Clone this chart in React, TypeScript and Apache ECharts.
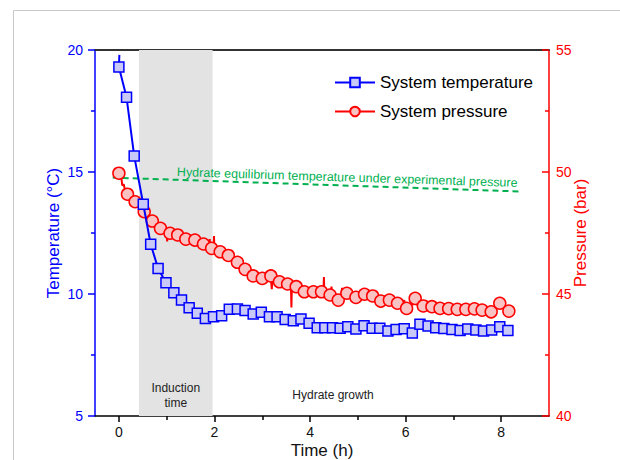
import React, { useEffect, useRef } from "react";
import * as echarts from "echarts";

// System temperature (blue squares)
const tempTime = [0, 0.16, 0.32, 0.51, 0.665, 0.82, 0.985, 1.15, 1.31, 1.47, 1.64, 1.81, 1.98, 2.15, 2.31, 2.48, 2.64, 2.81, 2.98, 3.15, 3.31, 3.48, 3.65, 3.81, 3.98, 4.15, 4.31, 4.47, 4.63, 4.79, 4.96, 5.13, 5.3, 5.46, 5.63, 5.8, 5.97, 6.14, 6.3, 6.47, 6.63, 6.8, 6.97, 7.14, 7.3, 7.47, 7.63, 7.8, 7.97, 8.14];
const tempValues = [19.3, 18.06, 15.66, 13.68, 12.04, 11.05, 10.46, 10.05, 9.75, 9.44, 9.21, 9.0, 9.07, 9.11, 9.37, 9.39, 9.32, 9.18, 9.25, 9.07, 9.07, 8.96, 8.9, 8.98, 8.8, 8.62, 8.62, 8.62, 8.6, 8.66, 8.57, 8.7, 8.6, 8.6, 8.48, 8.55, 8.58, 8.4, 8.76, 8.69, 8.62, 8.59, 8.55, 8.5, 8.57, 8.52, 8.48, 8.52, 8.66, 8.5];
// start of the continuous temperature trace
const tempTraceStart = [0.01, 19.8];

// System pressure (red circles)
const presTime = [0, 0.18, 0.34, 0.53, 0.7, 0.87, 1.07, 1.23, 1.4, 1.59, 1.77, 1.94, 2.12, 2.29, 2.48, 2.64, 2.81, 3.0, 3.18, 3.36, 3.53, 3.71, 3.88, 4.07, 4.24, 4.42, 4.59, 4.77, 4.96, 5.14, 5.31, 5.48, 5.66, 5.83, 6.02, 6.2, 6.37, 6.55, 6.72, 6.9, 7.08, 7.26, 7.44, 7.6, 7.79, 7.97, 8.16];
const presValues = [49.95, 49.09, 48.78, 48.37, 47.99, 47.69, 47.49, 47.42, 47.25, 47.21, 47.05, 46.87, 46.73, 46.58, 46.3, 46.01, 45.74, 45.64, 45.74, 45.5, 45.41, 45.3, 45.09, 45.09, 45.09, 44.96, 44.75, 45.03, 44.86, 44.99, 44.92, 44.71, 44.75, 44.62, 44.41, 44.82, 44.51, 44.48, 44.41, 44.4, 44.37, 44.37, 44.39, 44.34, 44.27, 44.62, 44.3];

// continuous (noisy) pressure record
const presTraceTime = [0, 0.03, 0.05, 0.07, 0.1, 0.13, 0.18, 0.26, 0.34, 0.44, 0.53, 0.58, 0.6, 0.62, 0.7, 0.78, 0.87, 0.97, 1.0, 1.01, 1.02, 1.07, 1.15, 1.23, 1.3, 1.4, 1.5, 1.59, 1.68, 1.77, 1.88, 1.9, 1.91, 1.94, 1.98, 1.99, 2.0, 2.12, 2.2, 2.29, 2.4, 2.48, 2.55, 2.64, 2.72, 2.81, 2.9, 2.92, 2.93, 3.0, 3.1, 3.18, 3.2, 3.21, 3.36, 3.45, 3.53, 3.6, 3.61, 3.62, 3.65, 3.66, 3.71, 3.8, 3.88, 3.9, 3.91, 4.07, 4.15, 4.24, 4.28, 4.29, 4.3, 4.42, 4.45, 4.46, 4.52, 4.59, 4.65, 4.67, 4.68, 4.77, 4.87, 4.96, 5.05, 5.14, 5.23, 5.31, 5.4, 5.48, 5.57, 5.66, 5.75, 5.83, 5.93, 5.97, 6.0, 6.05, 6.1, 6.2, 6.3, 6.37, 6.46, 6.55, 6.63, 6.72, 6.81, 6.9, 7.0, 7.08, 7.17, 7.26, 7.35, 7.44, 7.52, 7.6, 7.7, 7.79, 7.88, 7.92, 7.97, 8.05, 8.08, 8.16];
const presTraceValues = [49.95, 49.7, 49.8, 49.45, 49.5, 49.25, 49.09, 48.95, 48.78, 48.6, 48.37, 48.1, 48.3, 48.1, 47.99, 47.85, 47.69, 47.6, 47.5, 47.15, 47.5, 47.49, 47.45, 47.42, 47.3, 47.25, 47.22, 47.21, 47.1, 47.05, 46.95, 47.25, 46.92, 46.87, 46.85, 47.38, 46.8, 46.73, 46.65, 46.58, 46.4, 46.28, 46.15, 46.01, 45.88, 45.74, 45.66, 45.45, 45.68, 45.64, 45.62, 45.6, 45.2, 45.58, 45.5, 45.45, 45.41, 45.38, 44.45, 45.35, 45.2, 45.45, 45.3, 45.2, 45.09, 44.85, 45.12, 45.09, 45.08, 45.09, 45.1, 45.7, 45.05, 44.96, 45.3, 44.95, 44.85, 44.8, 44.9, 45.25, 44.95, 45.0, 44.9, 44.86, 44.95, 44.97, 44.9, 44.88, 44.8, 44.73, 44.75, 44.74, 44.68, 44.62, 44.55, 44.75, 44.45, 44.6, 44.55, 44.6, 44.52, 44.5, 44.49, 44.47, 44.44, 44.42, 44.41, 44.4, 44.39, 44.38, 44.37, 44.37, 44.38, 44.38, 44.36, 44.34, 44.3, 44.3, 44.36, 44.5, 44.4, 44.45, 44.3, 44.3];

// Hydrate equilibrium temperature line
const eqTime = [-0.13, 8.4];
const eqTemp = [14.77, 14.2];

// Axis ticks
const xTickValues = [0, 2, 4, 6, 8];
const xMinorTickValues = [1, 3, 5, 7];

// Induction period
const inductionStart = 0.42;
const inductionEnd = 1.96;

const zip = (xs: number[], ys: number[]) => xs.map((x, i) => [x, ys[i]]);

const FONT = "'Liberation Sans', Arial, sans-serif";
const BLUE = "#0000ff";
const RED = "#ff0000";
const GREEN = "#00b050";

export default function App() {
  const ref = useRef<HTMLDivElement>(null);

  useEffect(() => {
    if (!ref.current) return;
    const chart = echarts.init(ref.current, undefined, { renderer: "svg" });
    const option: any = {
      animation: false,
      backgroundColor: "#ffffff",
      textStyle: { fontFamily: FONT },
      grid: { left: 95, right: 71, top: 50, bottom: 44, containLabel: false, outerBoundsMode: "none" },
      legend: {
        orient: "vertical",
        left: 329,
        top: 69,
        itemWidth: 40,
        itemHeight: 12,
        itemGap: 12,
        selectedMode: false,
        textStyle: { fontSize: 17, color: "#000", fontFamily: FONT },
        lineStyle: { opacity: 1, width: 2 },
        data: ["System temperature", "System pressure"],
      },
      xAxis: [
        {
          type: "value",
          min: -0.5,
          max: 9,
          position: "bottom",
          axisLine: { show: true, onZero: false, lineStyle: { color: "#000", width: 1.5 } },
          axisTick: { show: true, customValues: xTickValues, length: 6, lineStyle: { color: "#000", width: 1.5 } },
          axisLabel: { customValues: xTickValues, fontSize: 14, color: "#111", margin: 9, fontFamily: FONT },
          splitLine: { show: false },
          name: "Time (h)",
          nameLocation: "middle",
          nameGap: 26,
          nameMoveOverlap: false,
          nameTextStyle: { fontSize: 17, color: "#111", fontFamily: FONT },
        },
        {
          type: "value",
          min: -0.5,
          max: 9,
          position: "bottom",
          axisLine: { show: false, onZero: false },
          axisTick: { show: true, customValues: xMinorTickValues, length: 4, lineStyle: { color: "#000", width: 1.5 } },
          axisLabel: { show: false },
          splitLine: { show: false },
        },
        {
          type: "value",
          min: -0.5,
          max: 9,
          position: "top",
          axisLine: { show: true, onZero: false, lineStyle: { color: "#333", width: 2 } },
          axisTick: { show: false },
          axisLabel: { show: false },
          splitLine: { show: false },
        },
      ],
      yAxis: [
        {
          type: "value",
          min: 5,
          max: 20,
          interval: 5,
          position: "left",
          axisLine: { show: true, onZero: false, lineStyle: { color: BLUE, width: 1.5 } },
          axisTick: { show: true, length: 7, lineStyle: { color: BLUE, width: 1.5 } },
          minorTick: { show: true, splitNumber: 2, length: 4, lineStyle: { color: BLUE, width: 1.5 } },
          axisLabel: { color: BLUE, fontSize: 14, margin: 12, fontFamily: FONT },
          splitLine: { show: false },
          name: "Temperature (°C)",
          nameLocation: "middle",
          nameGap: 33,
          nameMoveOverlap: false,
          nameTextStyle: { color: BLUE, fontSize: 17, fontFamily: FONT },
        },
        {
          type: "value",
          min: 40,
          max: 55,
          interval: 5,
          position: "right",
          axisLine: { show: true, onZero: false, lineStyle: { color: RED, width: 1.5 } },
          axisTick: { show: true, inside: true, length: 7, lineStyle: { color: RED, width: 1.5 } },
          minorTick: { show: true, splitNumber: 2, length: 4, lineStyle: { color: RED, width: 1.5 } },
          axisLabel: { color: RED, fontSize: 14, margin: 7, fontFamily: FONT },
          splitLine: { show: false },
          name: "Pressure (bar)",
          nameLocation: "middle",
          nameGap: 23,
          nameMoveOverlap: false,
          nameTextStyle: { color: RED, fontSize: 17, fontFamily: FONT },
        },
      ],
      series: [
        {
          name: "induction",
          type: "line",
          data: [],
          z: 1,
          markArea: {
            silent: true,
            itemStyle: { color: "#e3e3e3" },
            label: {
              show: true,
              position: "insideBottom",
              distance: 6,
              color: "#222",
              fontSize: 12,
              lineHeight: 15,
              fontFamily: FONT,
            },
            data: [[{ name: "Induction\ntime", xAxis: inductionStart }, { xAxis: inductionEnd }]],
          },
        },
        {
          name: "equilibrium",
          type: "line",
          data: zip(eqTime, eqTemp),
          symbol: "none",
          lineStyle: { color: GREEN, type: [6, 4], width: 2 },
          z: 2,
        },
        {
          name: "pressure trace",
          type: "line",
          yAxisIndex: 1,
          data: zip(presTraceTime, presTraceValues),
          symbol: "none",
          lineStyle: { color: RED, width: 2 },
          z: 3,
        },
        {
          name: "System pressure",
          type: "line",
          yAxisIndex: 1,
          data: zip(presTime, presValues),
          symbol: "circle",
          symbolSize: 12,
          itemStyle: { color: "#f9c3c3", borderColor: RED, borderWidth: 1.5 },
          lineStyle: { color: RED, width: 2, opacity: 0 },
          z: 4,
        },
        {
          name: "System temperature",
          type: "line",
          data: [{ value: tempTraceStart, symbol: "none" }, ...zip(tempTime, tempValues)],
          symbol: "rect",
          symbolSize: 10,
          itemStyle: { color: "#c9c9f7", borderColor: BLUE, borderWidth: 1.5 },
          lineStyle: { color: BLUE, width: 2 },
          z: 5,
        },
      ],
      graphic: [
        {
          type: "rect",
          silent: true,
          z: 0,
          shape: { x: 13.5, y: 10.5, width: 700, height: 600 },
          style: { fill: "none", stroke: "#c8c8c8", lineWidth: 1 },
        },
        {
          type: "text",
          x: 177,
          y: 172,
          z: 100,
          rotation: -0.032,
          silent: true,
          style: {
            text: "Hydrate equilibrium temperature under experimental pressure",
            fill: GREEN,
            fontSize: 12.5,
            fontFamily: FONT,
            align: "left",
            verticalAlign: "middle",
          },
        },
        {
          type: "text",
          x: 333,
          y: 395,
          z: 100,
          silent: true,
          style: {
            text: "Hydrate growth",
            fill: "#222",
            fontSize: 12,
            fontFamily: FONT,
            align: "center",
            verticalAlign: "middle",
          },
        },
      ],
    };
    chart.setOption(option);
    return () => {
      chart.dispose();
    };
  }, []);

  return (
    <div
      ref={ref}
      style={{ position: "fixed", left: 0, top: 0, width: 620, height: 460, background: "#fff" }}
    />
  );
}
